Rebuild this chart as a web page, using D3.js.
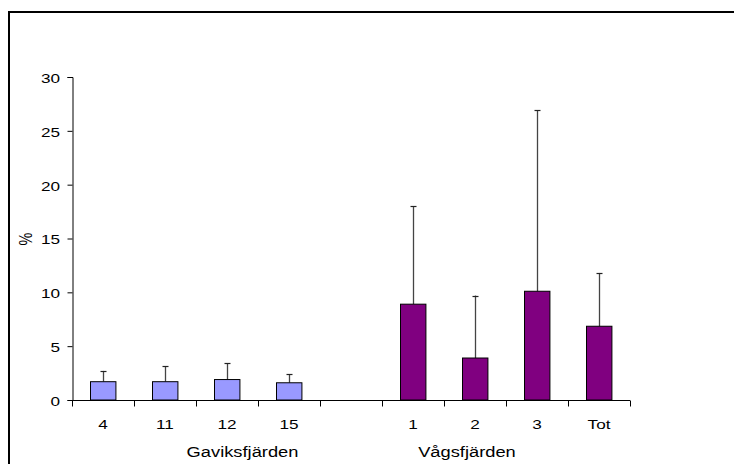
<!DOCTYPE html>
<html>
<head>
<meta charset="utf-8">
<script src="https://cdn.jsdelivr.net/npm/d3@7"></script>
<style>
  html, body { margin: 0; padding: 0; background: #fff; }
  svg { display: block; }
  text { font-family: "Liberation Sans", Arial, sans-serif; fill: #000; }
</style>
</head>
<body>
<svg id="chart" width="734" height="464"></svg>
<script>
// Sampling stations, grouped by fjord; an empty slot separates the two groups
const categories = ["4", "11", "12", "15", "", "1", "2", "3", "Tot"];
const groupOf = ["G", "G", "G", "G", null, "V", "V", "V", "V"];
const means = [1.7, 1.7, 1.9, 1.6, null, 8.9, 3.9, 10.1, 6.85];
const upperErr = [2.7, 3.15, 3.4, 2.4, null, 18.0, 9.7, 26.9, 11.8];
const yTicks = [0, 5, 10, 15, 20, 25, 30];
const groupNames = ["Gaviksfjärden", "Vågsfjärden"];
const groupColor = { G: "#9999FF", V: "#800080" };

// group captions sit under the axis, placed in units of category slots
const groupCaptionAt = [2.75, 6.37];

// text in this chart is set slightly wide
const WIDE_TICK = 1.27;
const WIDE_GROUP = 1.22;

const svg = d3.select("#chart");

// outer frame
svg.append("rect")
  .attr("x", 9).attr("y", 12)
  .attr("width", 740).attr("height", 470)
  .attr("fill", "none").attr("stroke", "#000").attr("stroke-width", 2);

const plotLeft = 72, plotRight = 630, plotTop = 77, plotBottom = 400;

const x = d3.scaleBand().domain(d3.range(categories.length))
  .range([plotLeft, plotRight]).paddingInner(0).paddingOuter(0);
const y = d3.scaleLinear().domain([0, 30]).range([plotBottom, plotTop]);

const barW = x.bandwidth() * 0.41;

const data = categories.map((c, i) => ({ i, c, g: groupOf[i], v: means[i], e: upperErr[i] }))
  .filter(d => d.v !== null);

// error bars (upper only)
const eb = svg.append("g");
data.forEach(d => {
  const cx = Math.round(x(d.i) + x.bandwidth() / 2) + 0.5;
  eb.append("line")
    .attr("x1", cx).attr("x2", cx)
    .attr("y1", y(d.v)).attr("y2", y(d.e))
    .attr("stroke", "#444").attr("stroke-width", 1.3);
  eb.append("line")
    .attr("x1", cx - 3).attr("x2", cx + 3)
    .attr("y1", Math.round(y(d.e)) + 0.5).attr("y2", Math.round(y(d.e)) + 0.5)
    .attr("stroke", "#222").attr("stroke-width", 1.2);
});

// bars
svg.append("g").selectAll("rect").data(data).join("rect")
  .attr("x", d => Math.round(x(d.i) + (x.bandwidth() - barW) / 2) + 0.5)
  .attr("y", d => y(d.v))
  .attr("width", barW)
  .attr("height", d => y(0) - y(d.v))
  .attr("fill", d => groupColor[d.g])
  .attr("stroke", "#000").attr("stroke-width", 1);

// y axis
const yAxis = d3.axisLeft(y).tickValues(yTicks).tickSize(5).tickPadding(7);
const gy = svg.append("g").attr("transform", `translate(${plotLeft + 0.5},0)`).call(yAxis);
gy.select(".domain").attr("stroke", "#000");
gy.selectAll(".tick line").attr("stroke", "#000");
gy.selectAll(".tick text")
  .attr("font-size", 13.5)
  .attr("font-family", "Liberation Sans, Arial, sans-serif")
  .attr("transform", function () {
    const tx = +d3.select(this).attr("x");
    return `translate(${tx - 0.5},1) scale(${WIDE_TICK},1)`;
  })
  .attr("x", 0);

// x axis with tick marks at category boundaries
const gx = svg.append("g").attr("transform", `translate(0,${plotBottom + 0.5})`);
gx.append("line").attr("x1", plotLeft).attr("x2", plotRight).attr("stroke", "#000");
d3.range(categories.length + 1).forEach(k => {
  const tx = Math.round(plotLeft + k * x.bandwidth()) + 0.5;
  gx.append("line").attr("x1", tx).attr("x2", tx).attr("y1", 0).attr("y2", 6).attr("stroke", "#000");
});
gx.selectAll("text.cat").data(categories).join("text")
  .attr("class", "cat")
  .attr("transform", (d, i) => `translate(${x(i) + x.bandwidth() / 2},28.5) scale(${WIDE_TICK},1)`)
  .attr("text-anchor", "middle")
  .attr("font-size", 13.5)
  .text(d => d);

// group captions
svg.selectAll("text.grp").data(groupNames).join("text")
  .attr("class", "grp")
  .attr("transform", (d, i) => `translate(${plotLeft + groupCaptionAt[i] * x.bandwidth()},456.5) scale(${WIDE_GROUP},1)`)
  .attr("text-anchor", "middle")
  .attr("font-size", 15)
  .text(d => d);

// y axis title
svg.append("text")
  .attr("transform", `translate(31.5,239) scale(${WIDE_TICK},1) rotate(-90)`)
  .attr("text-anchor", "middle")
  .attr("font-size", 14.5)
  .text("%");
</script>
</body>
</html>
